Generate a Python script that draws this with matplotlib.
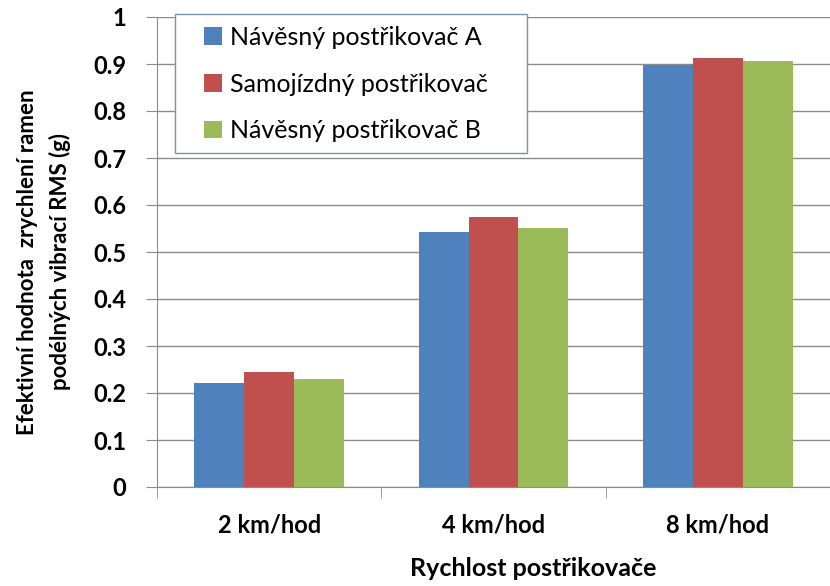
import matplotlib
matplotlib.use("Agg")
import matplotlib.pyplot as plt
from matplotlib.patches import Rectangle
import numpy as np

plt.rcParams['font.family'] = ['Lato', 'DejaVu Sans']

categories = ['2 km/hod', '4 km/hod', '8 km/hod']
series_names = ['Návěsný postřikovač A', 'Samojízdný postřikovač', 'Návěsný postřikovač B']
navesny_a = [0.222, 0.543, 0.897]
samojizdny = [0.245, 0.574, 0.912]
navesny_b = [0.230, 0.552, 0.906]
colors = ['#4F81BD', '#C0504D', '#9BBB59']

W, H = 830, 586
fig = plt.figure(figsize=(W / 100, H / 100), dpi=100)
ax = fig.add_axes([157 / W, 1 - 487 / H, (W - 157) / W, 470 / H])

x = np.arange(len(categories))
bw = 0.222
for i, (vals, name) in enumerate(zip([navesny_a, samojizdny, navesny_b], series_names)):
    ax.bar(x + (i - 1) * bw, vals, bw, color=colors[i], label=name, zorder=3)

ax.set_xlim(-0.5, -0.5 + (W - 157) / 226)
ax.set_ylim(0, 1)
ax.set_yticks(np.arange(0, 1.01, 0.1))
ax.set_yticklabels(['0', '0.1', '0.2', '0.3', '0.4', '0.5', '0.6', '0.7', '0.8', '0.9', '1'])
ax.yaxis.grid(True, color='#8c8c8c', linewidth=1, zorder=0)

ax.set_xticks(x)
ax.set_xticklabels(categories)
ax.set_xticks(np.arange(-0.5, 3, 1), minor=True)
ax.tick_params(axis='x', which='major', length=0, pad=19, labelsize=17)
ax.tick_params(axis='x', which='minor', length=8, color='#8c8c8c', direction='out')
ax.tick_params(axis='y', length=8, color='#8c8c8c', pad=14, labelsize=17)
for lab in ax.get_xticklabels() + ax.get_yticklabels():
    lab.set_fontweight('bold')

for s in ['top', 'right']:
    ax.spines[s].set_visible(False)
for s in ['left', 'bottom']:
    ax.spines[s].set_color('#8c8c8c')

fig.text(44 / W, 1 - 262 / H, 'Efektivní hodnota  zrychlení ramen\npodélných vibrací RMS (g)',
         rotation=90, ha='center', va='center', fontsize=16, fontweight='bold', linespacing=1.65)
fig.text(533 / W, 1 - 568 / H, 'Rychlost postřikovače', ha='center', va='center',
         fontsize=18, fontweight='bold')

# legend box drawn separately so the padding can match
fig.patches.append(Rectangle((175 / W, 1 - 153 / H), (527 - 175) / W, (153 - 14) / H,
                             transform=fig.transFigure, facecolor='white', edgecolor='#7f93a8',
                             linewidth=1, zorder=4))
handles, labels = ax.get_legend_handles_labels()
leg = fig.legend(handles, labels, loc='center left', bbox_to_anchor=(204 / W, 1 - 84 / H),
                 bbox_transform=fig.transFigure, fontsize=18, frameon=False,
                 handlelength=0.7, handleheight=0.7, handletextpad=0.35,
                 labelspacing=0.95, borderpad=0, borderaxespad=0)
leg.set_zorder(5)

fig.savefig('out.png', dpi=100)
